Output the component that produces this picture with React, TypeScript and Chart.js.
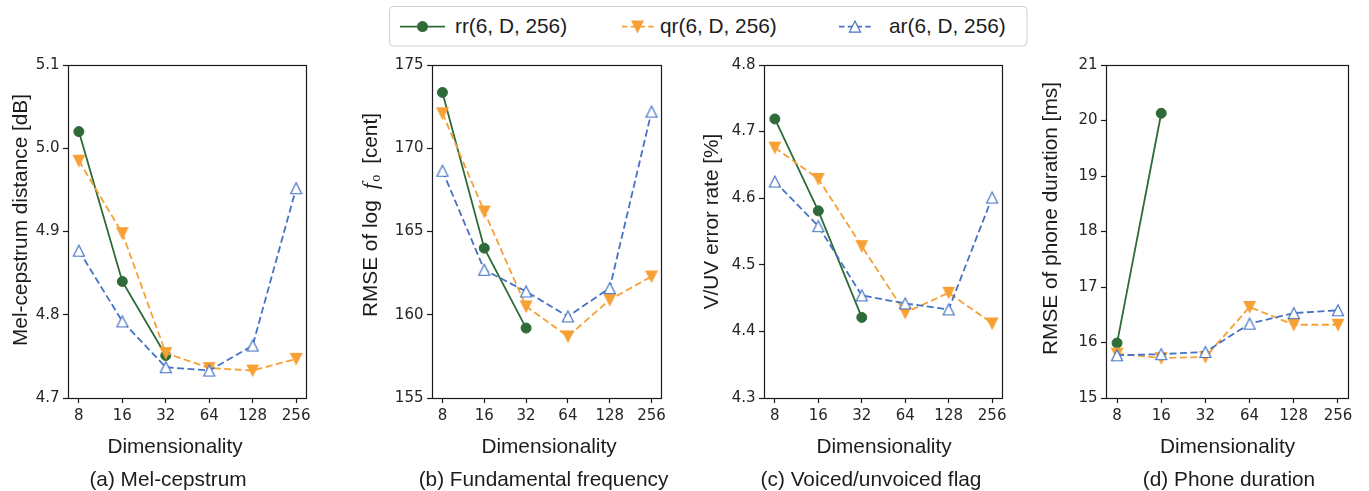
import React, { useEffect, useRef } from 'react';
import { Chart, registerables } from 'chart.js';

Chart.register(...registerables);

// ---------- data ----------
const dims = ['8', '16', '32', '64', '128', '256'];
const legendLabels = ['rr(6, D, 256)', 'qr(6, D, 256)', 'ar(6, D, 256)'];

const melRR = [5.02, 4.84, 4.751];
const melQR = [4.985, 4.898, 4.754, 4.736, 4.733, 4.747];
const melAR = [4.877, 4.792, 4.737, 4.733, 4.763, 4.952];

const f0RR = [173.35, 164.0, 159.2];
const f0QR = [172.1, 166.2, 160.5, 158.7, 160.9, 162.3];
const f0AR = [168.65, 162.7, 161.4, 159.9, 161.6, 172.2];

const vuvRR = [4.719, 4.581, 4.421];
const vuvQR = [4.676, 4.629, 4.528, 4.428, 4.458, 4.412];
const vuvAR = [4.625, 4.558, 4.454, 4.442, 4.433, 4.601];

const durRR = [15.99, 20.13];
const durQR = [15.8, 15.72, 15.74, 16.64, 16.32, 16.32];
const durAR = [15.77, 15.79, 15.83, 16.34, 16.53, 16.58];

const melTicks = [4.7, 4.8, 4.9, 5.0, 5.1];
const melTickLabels = ['4.7', '4.8', '4.9', '5.0', '5.1'];
const f0Ticks = [155, 160, 165, 170, 175];
const f0TickLabels = ['155', '160', '165', '170', '175'];
const vuvTicks = [4.3, 4.4, 4.5, 4.6, 4.7, 4.8];
const vuvTickLabels = ['4.3', '4.4', '4.5', '4.6', '4.7', '4.8'];
const durTicks = [15, 16, 17, 18, 19, 20, 21];
const durTickLabels = ['15', '16', '17', '18', '19', '20', '21'];

const xTitle = 'Dimensionality';
const subtitles = ['(a) Mel-cepstrum', '(b) Fundamental frequency', '(c) Voiced/unvoiced flag', '(d) Phone duration'];

// ---------- styles ----------
const W = 1369;
const H = 491;
const CT = 48; // canvas top
const PLOT_TOP = 65;
const PLOT_BOTTOM = 398;
const X_TITLE_BASE = 452.5;
const SUB_BASE = 486;
const YW = 40;
const XH = 30;
const GREEN = '#2f6a39';
const ORANGE = '#f7a035';
const BLUE = '#4472c4';
const TEXT = '#1c1c1c';
const TICK = '#262626';
const LABEL_FONT = '20.8px "Liberation Sans", Arial, sans-serif';
const SANS = '"Liberation Sans", Arial, sans-serif';

type Seg = { text: string; font: string; dy?: number; gap?: number };

const panels = [
  {
    cx0: 0, cx1: 340, l: 68, r: 307,
    rr: melRR, qr: melQR, ar: melAR, min: 4.7, max: 5.1, ticks: melTicks, labels: melTickLabels,
    ySegs: [{ text: 'Mel-cepstrum distance [dB]', font: LABEL_FONT }] as Seg[],
    yX: 27, yY: 220, xX: 175, subX: 168, sub: subtitles[0],
  },
  {
    cx0: 340, cx1: 680, l: 432, r: 662,
    rr: f0RR, qr: f0QR, ar: f0AR, min: 155, max: 175, ticks: f0Ticks, labels: f0TickLabels,
    ySegs: [
      { text: 'RMSE of log', font: LABEL_FONT },
      { text: 'f', font: 'italic 22px "Liberation Serif", serif', gap: 11 },
      { text: 'o', font: '14px "Liberation Serif", serif', dy: 3, gap: 1.5 },
      { text: ' [cent]', font: LABEL_FONT, gap: 5 },
    ] as Seg[],
    yX: 376.5, yY: 215, xX: 549, subX: 543.5, sub: subtitles[1],
  },
  {
    cx0: 680, cx1: 1020, l: 764, r: 1003,
    rr: vuvRR, qr: vuvQR, ar: vuvAR, min: 4.3, max: 4.8, ticks: vuvTicks, labels: vuvTickLabels,
    ySegs: [{ text: 'V/UV error rate [%]', font: LABEL_FONT }] as Seg[],
    yX: 718, yY: 221.5, xX: 884, subX: 871, sub: subtitles[2],
  },
  {
    cx0: 1020, cx1: 1369, l: 1106, r: 1349,
    rr: durRR, qr: durQR, ar: durAR, min: 15, max: 21, ticks: durTicks, labels: durTickLabels,
    ySegs: [{ text: 'RMSE of phone duration [ms]', font: LABEL_FONT }] as Seg[],
    yX: 1056.5, yY: 218.5, xX: 1227.5, subX: 1229, sub: subtitles[3],
  },
];

function triCanvas(up: boolean, fill: string, stroke: string, h: number) {
  const c = document.createElement('canvas');
  c.width = 16;
  c.height = 16;
  const g = c.getContext('2d')!;
  g.beginPath();
  if (up) {
    g.moveTo(8, 8 - h);
    g.lineTo(8 + h, 8 + h);
    g.lineTo(8 - h, 8 + h);
  } else {
    g.moveTo(8, 8 + h);
    g.lineTo(8 + h, 8 - h);
    g.lineTo(8 - h, 8 - h);
  }
  g.closePath();
  g.fillStyle = fill;
  g.fill();
  g.lineWidth = 1.2;
  g.strokeStyle = stroke;
  g.stroke();
  return c;
}

const axisTexts = {
  id: 'axisTexts',
  afterDraw(chart: any, _a: any, o: any) {
    const ctx = chart.ctx as CanvasRenderingContext2D;
    const ox = o.cx0;
    ctx.save();
    // frame
    const a = chart.chartArea;
    ctx.strokeStyle = '#1a1a1a';
    ctx.lineWidth = 1.2;
    ctx.strokeRect(Math.round(a.left) + 0.5, Math.round(a.top) + 0.5, Math.round(a.right - a.left) - 1, Math.round(a.bottom - a.top));
    ctx.fillStyle = TEXT;
    ctx.textBaseline = 'alphabetic';
    // y title
    ctx.save();
    ctx.translate(o.yX - ox, o.yY - CT);
    ctx.rotate(-Math.PI / 2);
    let total = 0;
    const widths = (o.ySegs as Seg[]).map((s) => {
      ctx.font = s.font;
      const w = ctx.measureText(s.text).width + (s.gap || 0);
      total += w;
      return w;
    });
    let x = -total / 2;
    ctx.textAlign = 'left';
    (o.ySegs as Seg[]).forEach((s, i) => {
      ctx.font = s.font;
      ctx.fillText(s.text, x + (s.gap || 0), s.dy || 0);
      x += widths[i];
    });
    ctx.restore();
    ctx.font = LABEL_FONT;
    ctx.textAlign = 'center';
    ctx.fillText(xTitle, o.xX - ox, X_TITLE_BASE - CT);
    ctx.fillText(o.sub, o.subX - ox, SUB_BASE - CT);
    ctx.restore();
  },
};

function makeChart(canvas: HTMLCanvasElement, p: any, up: HTMLCanvasElement, down: HTMLCanvasElement) {
  const ch = H - CT;
  const tickFont = { family: '"DejaVu Sans", sans-serif', size: 15 };
  const grid = {
    display: true,
    drawOnChartArea: false,
    drawTicks: true,
    tickLength: 5,
    tickWidth: 1.2,
    tickColor: '#1a1a1a',
  };
  return new Chart(canvas, {
    type: 'line',
    data: {
      datasets: [
        {
          label: legendLabels[0],
          data: p.rr.map((y: number, i: number) => ({ x: i, y })),
          borderColor: GREEN,
          backgroundColor: GREEN,
          borderWidth: 1.8,
          pointStyle: 'circle',
          pointRadius: 5,
          pointBorderWidth: 1,
          pointBackgroundColor: GREEN,
          pointBorderColor: GREEN,
          order: 3,
        },
        {
          label: legendLabels[1],
          data: p.qr.map((y: number, i: number) => ({ x: i, y })),
          borderColor: ORANGE,
          backgroundColor: ORANGE,
          borderWidth: 1.8,
          borderDash: [7, 3.5],
          pointStyle: down,
          pointRadius: 5,
          order: 2,
        },
        {
          label: legendLabels[2],
          data: p.ar.map((y: number, i: number) => ({ x: i, y })),
          borderColor: BLUE,
          backgroundColor: BLUE,
          borderWidth: 1.8,
          borderDash: [7, 3.5],
          pointStyle: up,
          pointRadius: 5,
          order: 1,
        },
      ],
    },
    options: {
      responsive: false,
      animation: false,
      events: [],
      layout: {
        padding: {
          left: p.l - p.cx0 - YW,
          right: p.cx1 - p.r,
          top: PLOT_TOP - CT,
          bottom: ch - (PLOT_BOTTOM - CT) - XH,
        },
      },
      plugins: {
        legend: { display: false },
        tooltip: { enabled: false },
        title: { display: false },
        axisTexts: { ...p, cx0: p.cx0 },
      } as any,
      scales: {
        x: {
          type: 'linear',
          bounds: 'data',
          min: -0.25,
          max: 5.25,
          afterBuildTicks: (s: any) => {
            s.ticks = dims.map((_, i) => ({ value: i }));
          },
          afterFit: (s: any) => {
            s.height = XH;
            s.paddingLeft = 0;
            s.paddingRight = 0;
          },
          ticks: {
            autoSkip: false,
            maxRotation: 0,
            minRotation: 0,
            padding: 4.5,
            font: tickFont,
            color: TICK,
            callback: (v: any) => dims[v],
          },
          grid,
          border: { display: false },
        },
        y: {
          type: 'linear',
          bounds: 'data',
          min: p.min,
          max: p.max,
          afterBuildTicks: (s: any) => {
            s.ticks = p.ticks.map((v: number) => ({ value: v }));
          },
          afterFit: (s: any) => {
            s.width = YW;
            s.paddingTop = 0;
            s.paddingBottom = 0;
          },
          ticks: {
            padding: 3.5,
            font: tickFont,
            color: TICK,
            callback: (_v: any, i: number) => p.labels[i],
          },
          grid,
          border: { display: false },
        },
      },
    } as any,
    plugins: [axisTexts],
  });
}

function Legend() {
  const ty = 32.5;
  const my = 26.6;
  const font = { fontFamily: SANS, fontSize: '20.8px', fill: TEXT } as any;
  return (
    <svg width={W} height={CT} style={{ position: 'absolute', left: 0, top: 0 }}>
      <rect x={389.5} y={6.5} width={637.5} height={39.5} rx={4} ry={4} fill="#fff" stroke="#cfcfcf" strokeWidth={1} />
      <line x1={400} y1={my} x2={445} y2={my} stroke={GREEN} strokeWidth={1.8} />
      <circle cx={422.5} cy={my} r={5.5} fill={GREEN} />
      <text x={455} y={ty} style={font}>{legendLabels[0]}</text>
      <line x1={622} y1={my} x2={654} y2={my} stroke={ORANGE} strokeWidth={1.8} strokeDasharray="5.5 3.25" />
      <polygon points={`632,${my - 5.5} 643,${my - 5.5} 637.5,${my + 5.5}`} fill={ORANGE} stroke={ORANGE} strokeWidth={1.2} />
      <text x={660} y={ty} style={font}>{legendLabels[1]}</text>
      <line x1={839} y1={my} x2={871} y2={my} stroke={BLUE} strokeWidth={1.8} strokeDasharray="5.5 3.25" />
      <polygon points={`855,${my - 5.5} 860.5,${my + 5.5} 849.5,${my + 5.5}`} fill="#fff" stroke={BLUE} strokeWidth={1.2} />
      <text x={889} y={ty} style={font}>{legendLabels[2]}</text>
    </svg>
  );
}

export default function App() {
  const refs = useRef<(HTMLCanvasElement | null)[]>([]);
  useEffect(() => {
    const up = triCanvas(true, '#ffffff', BLUE, 5.5);
    const down = triCanvas(false, ORANGE, ORANGE, 5.5);
    const charts = panels.map((p, i) => makeChart(refs.current[i]!, p, up, down));
    return () => charts.forEach((c) => c.destroy());
  }, []);
  return (
    <div style={{ position: 'absolute', left: 0, top: 0, width: W, height: H, background: '#fff', overflow: 'hidden' }}>
      <Legend />
      {panels.map((p, i) => (
        <canvas
          key={i}
          ref={(el) => {
            refs.current[i] = el;
          }}
          width={p.cx1 - p.cx0}
          height={H - CT}
          style={{ position: 'absolute', left: p.cx0, top: CT, width: p.cx1 - p.cx0, height: H - CT }}
        />
      ))}
    </div>
  );
}
